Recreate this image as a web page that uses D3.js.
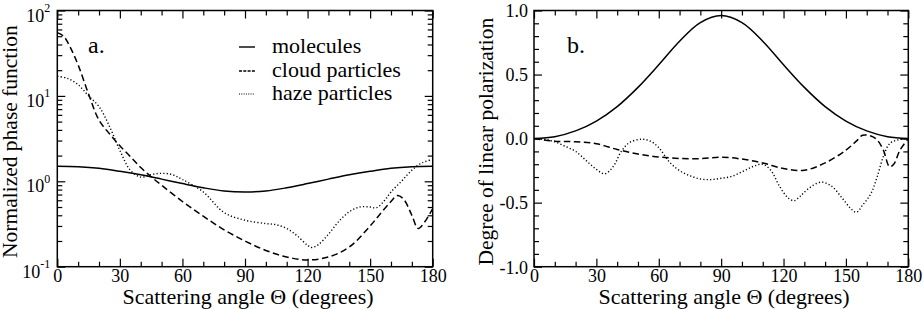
<!DOCTYPE html>
<html>
<head>
<meta charset="utf-8">
<script src="https://cdn.jsdelivr.net/npm/d3@7"></script>
<style>
  body { margin: 0; background: #fff; }
  svg text { font-family: "Liberation Serif", "Times New Roman", Times, serif !important; fill: #000; }
</style>
</head>
<body>
<script>
// ---- data ----
const angleMajor = [0, 30, 60, 90, 120, 150, 180];
const angleMinor = [10, 20, 40, 50, 70, 80, 100, 110, 130, 140, 160, 170];
const phaseMajor = [0.1, 1, 10, 100];
const phaseMinor = [0.2, 0.3, 0.4, 0.5, 0.6, 0.7, 0.8, 0.9, 2, 3, 4, 5, 6, 7, 8, 9, 20, 30, 40, 50, 60, 70, 80, 90];
const polMajor = [-1, -0.5, 0, 0.5, 1];
const polMinor = [-0.9, -0.8, -0.7, -0.6, -0.4, -0.3, -0.2, -0.1, 0.1, 0.2, 0.3, 0.4, 0.6, 0.7, 0.8, 0.9];

const seriesNames = ["molecules", "cloud particles", "haze particles"];

// panel a: normalized phase function
const molPhaseAngles = [0, 10, 20, 30, 40, 50, 60, 70, 80, 90, 100, 110, 120, 130, 140, 150, 160, 170, 180];
const molPhase = [1.5, 1.48, 1.42, 1.31, 1.19, 1.06, 0.94, 0.84, 0.77, 0.75, 0.77, 0.84, 0.94, 1.06, 1.19, 1.31, 1.42, 1.48, 1.5];

const cloudPhaseAngles = [0, 3, 6, 10, 15, 20, 25, 30, 35, 40, 45, 50, 60, 70, 80, 90, 100, 110, 120, 130, 140, 150, 155, 160, 163, 166, 170, 173, 176, 180];
const cloudPhase = [55, 50, 38, 23, 10.5, 5.2, 3.6, 2.6, 1.95, 1.45, 1.13, 0.9, 0.58, 0.39, 0.27, 0.2, 0.155, 0.13, 0.12, 0.13, 0.17, 0.3, 0.42, 0.58, 0.68, 0.62, 0.4, 0.28, 0.33, 0.48];

const hazePhaseAngles = [0, 5, 10, 15, 20, 25, 30, 35, 40, 45, 50, 55, 60, 70, 80, 90, 100, 105, 110, 115, 120, 122, 125, 130, 135, 140, 145, 150, 153, 157, 160, 165, 170, 175, 180];
const hazePhase = [17, 16, 13.5, 10, 7.5, 4.4, 2.3, 1.35, 1.12, 1.2, 1.24, 1.2, 1.05, 0.75, 0.43, 0.35, 0.32, 0.31, 0.28, 0.23, 0.178, 0.168, 0.18, 0.24, 0.34, 0.44, 0.5, 0.5, 0.49, 0.6, 0.75, 1.0, 1.35, 1.65, 1.8];

// panel b: degree of linear polarization
const molPolAngles = [0, 10, 20, 30, 40, 50, 60, 70, 80, 90, 100, 110, 120, 130, 140, 150, 160, 170, 180];
const molPol = [0, 0.015, 0.06, 0.137, 0.25, 0.4, 0.576, 0.76, 0.905, 0.96, 0.905, 0.76, 0.576, 0.4, 0.25, 0.137, 0.06, 0.015, 0];

const cloudPolAngles = [0, 10, 20, 30, 40, 50, 60, 70, 80, 90, 100, 110, 120, 130, 140, 150, 155, 158, 162, 165, 168, 171, 173, 176, 180];
const cloudPol = [0, -0.02, -0.025, -0.04, -0.085, -0.12, -0.143, -0.155, -0.156, -0.145, -0.16, -0.19, -0.234, -0.247, -0.19, -0.09, -0.02, 0.026, 0.02, -0.01, -0.09, -0.22, -0.2, -0.09, 0];

const hazePolAngles = [0, 5, 10, 15, 20, 25, 30, 34, 38, 42, 46, 52, 56, 60, 65, 70, 75, 80, 85, 90, 95, 100, 105, 110, 114, 118, 122, 125, 128, 132, 138, 143, 148, 152, 155, 158, 162, 165, 168, 171, 175, 180];
const hazePol = [0, -0.005, -0.025, -0.06, -0.1, -0.17, -0.24, -0.275, -0.22, -0.1, -0.03, -0.005, -0.02, -0.07, -0.18, -0.25, -0.29, -0.315, -0.32, -0.31, -0.295, -0.26, -0.22, -0.2, -0.25, -0.37, -0.46, -0.485, -0.45, -0.39, -0.34, -0.37, -0.46, -0.54, -0.575, -0.52, -0.43, -0.3, -0.14, -0.04, -0.01, 0];

// ---- drawing ----
const width = 923, height = 309;
const styles = [
  { dash: null, w: 1.5 },
  { dash: "6.5,3.5", w: 1.5 },
  { dash: "1.2,2.2", w: 1.4 }
];

const svg = d3.select("body").append("svg")
  .attr("width", width)
  .attr("height", height);

function zip(a, b) { return a.map((d, i) => [d, b[i]]); }

function drawPanel(id, box, y, yMajor, yMinor, series, yLabel, tag) {
  const x = d3.scaleLinear().domain([0, 180]).range([box.left, box.right]);
  const g = svg.append("g");

  g.append("clipPath").attr("id", "clip-" + id)
    .append("rect")
    .attr("x", box.left).attr("y", box.top)
    .attr("width", box.right - box.left).attr("height", box.bottom - box.top);

  const line = d3.line()
    .x(d => x(d[0]))
    .y(d => y(d[1]))
    .curve(d3.curveCatmullRom.alpha(0.5));

  g.append("g").attr("clip-path", `url(#clip-${id})`)
    .selectAll("path")
    .data(series)
    .enter()
    .append("path")
    .attr("d", d => line(d))
    .attr("fill", "none")
    .attr("stroke", "#000")
    .attr("stroke-width", (d, i) => styles[i].w)
    .attr("stroke-dasharray", (d, i) => styles[i].dash);

  // inward ticks on all four sides
  const addAxis = (axis, tx, ty) => {
    const a = g.append("g").attr("transform", `translate(${tx},${ty})`).call(axis);
    a.select(".domain").remove();
    a.selectAll(".tick line").attr("stroke", "#000").attr("stroke-width", 1.2);
    return a;
  };

  const bottom = addAxis(d3.axisBottom(x).tickValues(angleMajor).tickSize(-8).tickPadding(3).tickFormat(d3.format("d")), 0, box.bottom);
  bottom.selectAll(".tick text").attr("font-size", 18);
  addAxis(d3.axisBottom(x).tickValues(angleMinor).tickSize(-5).tickFormat(""), 0, box.bottom);
  addAxis(d3.axisTop(x).tickValues(angleMajor).tickSize(-8).tickFormat(""), 0, box.top);
  addAxis(d3.axisTop(x).tickValues(angleMinor).tickSize(-5).tickFormat(""), 0, box.top);

  const left = addAxis(d3.axisLeft(y).tickValues(yMajor).tickSize(-8).tickPadding(6).tickFormat(""), box.left, 0);
  addAxis(d3.axisLeft(y).tickValues(yMinor).tickSize(-5).tickFormat(""), box.left, 0);
  addAxis(d3.axisRight(y).tickValues(yMajor).tickSize(-8).tickFormat(""), box.right, 0);
  addAxis(d3.axisRight(y).tickValues(yMinor).tickSize(-5).tickFormat(""), box.right, 0);

  g.append("rect")
    .attr("x", box.left).attr("y", box.top)
    .attr("width", box.right - box.left).attr("height", box.bottom - box.top)
    .attr("fill", "none").attr("stroke", "#000").attr("stroke-width", 1.5);

  g.append("text")
    .attr("x", (box.left + box.right) / 2 + 3)
    .attr("y", 304)
    .attr("text-anchor", "middle")
    .attr("font-size", 22)
    .text("Scattering angle \u0398 (degrees)");

  g.append("text")
    .attr("transform", `translate(${yLabel.x},${(box.top + box.bottom) / 2 + 3}) rotate(-90)`)
    .attr("text-anchor", "middle")
    .attr("font-size", 21.5)
    .text(yLabel.text);

  g.append("text")
    .attr("x", tag.x).attr("y", 53)
    .attr("font-size", 24)
    .text(tag.text);

  return left;
}

// panel a
const yPhase = d3.scaleLog().domain([0.1, 100]).range([266.7, 10.5]);
const leftA = drawPanel("a", { left: 57.3, right: 432.7, top: 10.5, bottom: 266.7 }, yPhase, phaseMajor, phaseMinor,
  [zip(molPhaseAngles, molPhase), zip(cloudPhaseAngles, cloudPhase), zip(hazePhaseAngles, hazePhase)],
  { x: 17, text: "Normalized phase function" }, { x: 88, text: "a." });

leftA.selectAll(".tick").each(function (d) {
  const t = d3.select(this).append("text")
    .attr("x", -7).attr("y", 10.5)
    .attr("text-anchor", "end")
    .attr("font-size", 18);
  t.append("tspan").text("10");
  t.append("tspan").attr("dy", -9.5).attr("font-size", 12).text(Math.round(Math.log10(d)));
});

// legend
const legend = svg.append("g").selectAll("g")
  .data(seriesNames)
  .enter()
  .append("g")
  .attr("transform", (d, i) => `translate(0,${[53, 77, 100][i]})`);
legend.append("line")
  .attr("x1", 239).attr("x2", 255).attr("y1", -6).attr("y2", -6)
  .attr("stroke", "#000")
  .attr("stroke-width", (d, i) => i === 2 ? 1.2 : 1.4)
  .attr("stroke-dasharray", (d, i) => ["", "3,1.3", "1,1.3"][i]);
legend.append("text")
  .attr("x", 272)
  .attr("font-size", 22)
  .text(d => d);

// panel b
const yPol = d3.scaleLinear().domain([-1, 1]).range([266.7, 10.5]);
const leftB = drawPanel("b", { left: 534, right: 908.3, top: 10.5, bottom: 266.7 }, yPol, polMajor, polMinor,
  [zip(molPolAngles, molPol), zip(cloudPolAngles, cloudPol), zip(hazePolAngles, hazePol)],
  { x: 493, text: "Degree of linear polarization" }, { x: 567, text: "b." });

leftB.selectAll(".tick").append("text")
  .attr("x", -6).attr("dy", "0.35em")
  .attr("text-anchor", "end")
  .attr("font-size", 18)
  .text(d => d.toFixed(1));
</script>
</body>
</html>
